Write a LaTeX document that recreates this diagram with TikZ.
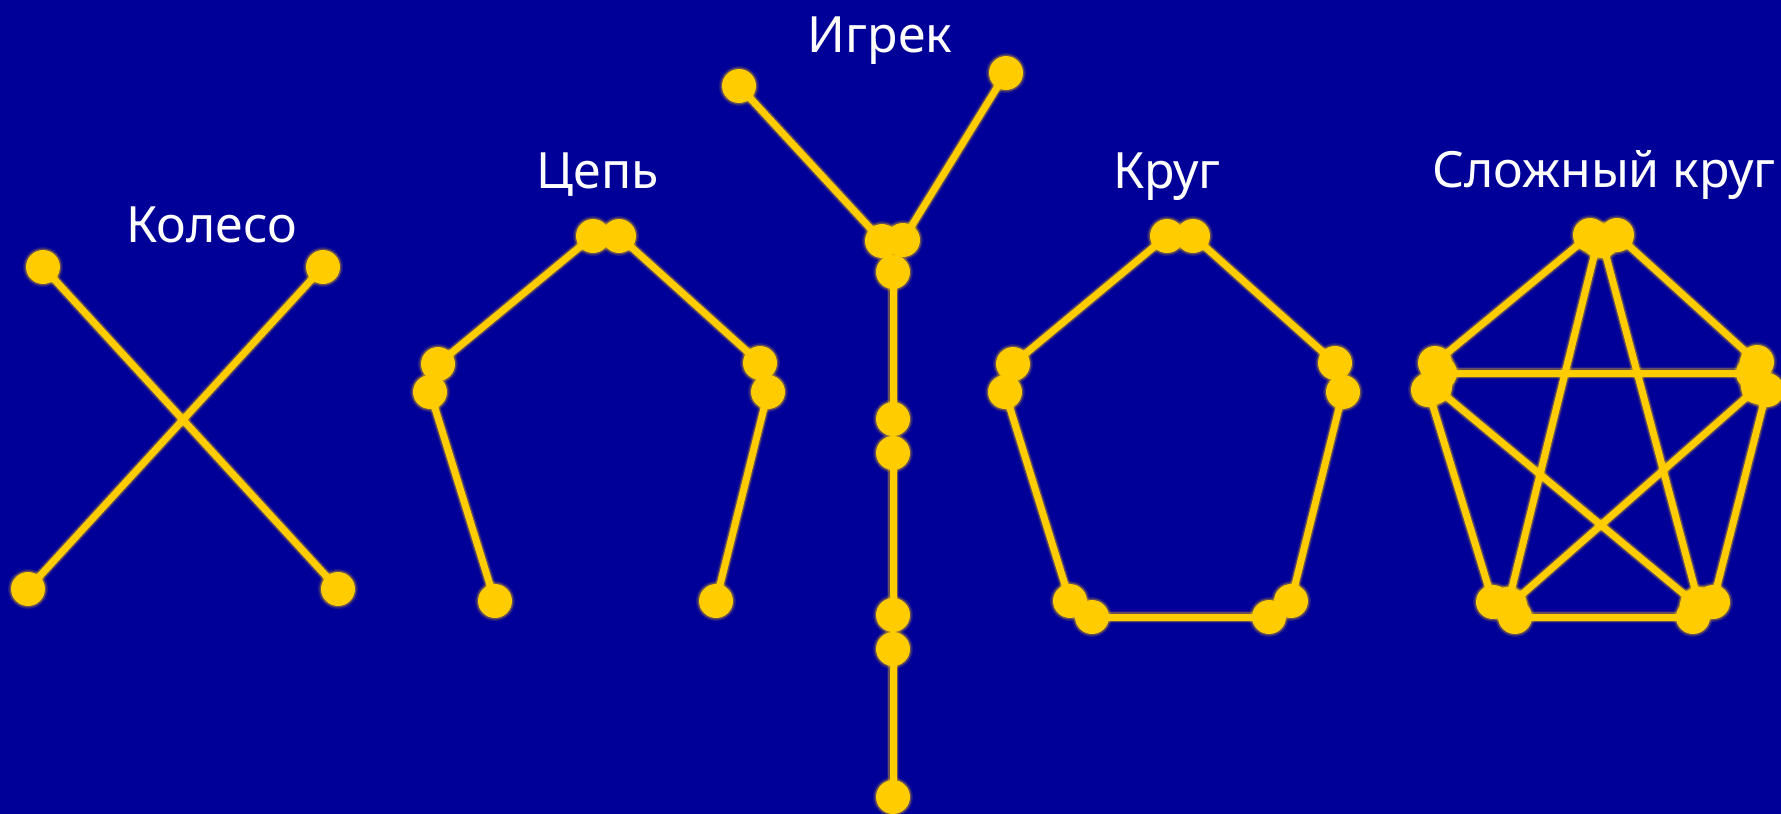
\documentclass[tikz,border=0pt]{standalone}
\usepackage{fontspec}
\setmainfont{Noto Sans}
\definecolor{bg}{RGB}{0,0,153}
\definecolor{gold}{RGB}{255,204,0}
\pgfdeclarelayer{bgl}
\pgfdeclarelayer{edges}
\pgfsetlayers{bgl,edges,main}
\tikzset{
  x=1pt, y=-1pt,
  dot/.style={circle, fill=gold, inner sep=0pt, minimum size=34pt,
    preaction={draw=gold, draw opacity=0.12, line width=6pt},
    preaction={draw=gold, draw opacity=0.3, line width=3pt}},
  edgeline/.style={draw=gold, line width=7pt},
  glowline/.style={draw=gold, line width=12pt, draw opacity=0.12},
  glowlineb/.style={draw=gold, line width=9.5pt, draw opacity=0.3},
  lbl/.style={text=white, font=\fontsize{50}{60}\selectfont, anchor=base}
}
\newcommand\lnk[2]{\draw[glowline] (#1.center) -- (#2.center);\draw[glowlineb] (#1.center) -- (#2.center);\draw[edgeline] (#1.center) -- (#2.center);}
\begin{document}
\begin{tikzpicture}
\begin{pgfonlayer}{bgl}
  \fill[bg] (0,0) rectangle (1781,814);
\end{pgfonlayer}
\useasboundingbox (0,0) rectangle (1781,814);

% labels
\node[lbl] (tk) at (212,242) {Колесо};
\node[lbl] (tc) at (598,188) {Цепь};
\node[lbl] (ty) at (880,52) {Игрек};
\node[lbl] (tr) at (1167,188) {Круг};
\node[lbl] (ts) at (1604,187) {Сложный круг};

% Колесо
\node[dot] (k1) at (43,267) {};
\node[dot] (k2) at (323,267) {};
\node[dot] (k3) at (28,589) {};
\node[dot] (k4) at (338,589) {};

% Цепь
\node[dot] (c1) at (593,236) {};
\node[dot] (c2) at (619,236) {};
\node[dot] (c4) at (430,392) {};
\node[dot] (c3) at (438,364) {};
\node[dot] (c6) at (768,392) {};
\node[dot] (c5) at (760,363) {};
\node[dot] (c7) at (495,601) {};
\node[dot] (c8) at (716,601) {};

% Игрек
\node[dot] (y1) at (739,86) {};
\node[dot] (y2) at (1006,73) {};
\node[dot] (y5) at (893,272) {};
\node[dot] (y3) at (882,241) {};
\node[dot] (y4) at (903,240) {};
\node[dot] (y6) at (893,419) {};
\node[dot] (y7) at (893,453) {};
\node[dot] (y8) at (893,615) {};
\node[dot] (y9) at (893,649) {};
\node[dot] (y10) at (893,797) {};

% Круг
\node[dot] (r1) at (1167,236) {};
\node[dot] (r2) at (1193,236) {};
\node[dot] (r4) at (1005,392) {};
\node[dot] (r3) at (1013,364) {};
\node[dot] (r6) at (1343,392) {};
\node[dot] (r5) at (1335,363) {};
\node[dot] (r7) at (1070,601) {};
\node[dot] (r9) at (1291,601) {};
\node[dot] (r8) at (1092,617) {};
\node[dot] (r10) at (1269,617) {};

% Сложный круг
\node[dot] (s1a) at (1590,235) {};
\node[dot] (s2a) at (1617,235) {};
\node[dot] (s7a) at (1598,240) {};
\node[dot] (s8a) at (1602,241) {};
\node[dot] (s1b) at (1435,363) {};
\node[dot] (s3a) at (1440,373) {};
\node[dot] (s4a) at (1428,390) {};
\node[dot] (s9a) at (1435,387) {};
\node[dot] (s2b) at (1757,362) {};
\node[dot] (s3b) at (1753,373) {};
\node[dot] (s5a) at (1767,390) {};
\node[dot] (s10a) at (1758,387) {};
\node[dot] (s4b) at (1493,602) {};
\node[dot] (s6a) at (1515,617) {};
\node[dot] (s7b) at (1508,604) {};
\node[dot] (s10b) at (1510,605) {};
\node[dot] (s5b) at (1713,602) {};
\node[dot] (s6b) at (1693,617) {};
\node[dot] (s8b) at (1699,604) {};
\node[dot] (s9b) at (1697,605) {};

\begin{pgfonlayer}{edges}
  \lnk{k1}{k4}\lnk{k2}{k3}
  \lnk{c1}{c3}\lnk{c2}{c5}\lnk{c4}{c7}\lnk{c6}{c8}
  \lnk{y1}{y3}\lnk{y2}{y4}\lnk{y5}{y6}\lnk{y7}{y8}\lnk{y9}{y10}
  \lnk{r1}{r3}\lnk{r2}{r5}\lnk{r4}{r7}\lnk{r6}{r9}\lnk{r8}{r10}
  \lnk{s1a}{s1b}\lnk{s2a}{s2b}\lnk{s3a}{s3b}\lnk{s4a}{s4b}\lnk{s5a}{s5b}
  \lnk{s6a}{s6b}\lnk{s7a}{s7b}\lnk{s8a}{s8b}\lnk{s9a}{s9b}\lnk{s10a}{s10b}
\end{pgfonlayer}
\end{tikzpicture}
\end{document}
